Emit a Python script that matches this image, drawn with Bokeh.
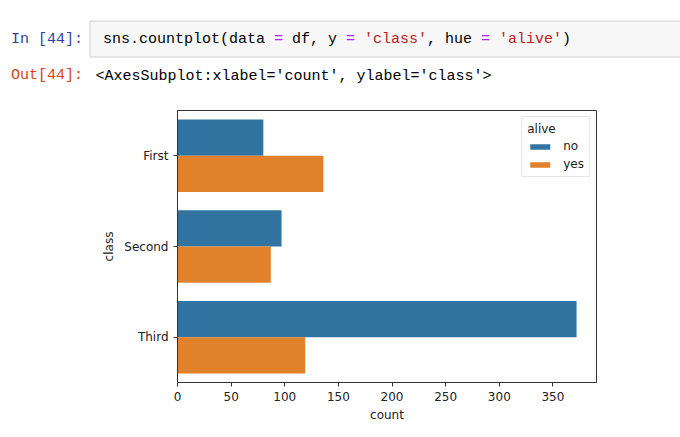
from bokeh.plotting import figure
from bokeh.models import Range1d, FactorRange, FixedTicker, Legend, LegendItem, ColumnDataSource
from bokeh.transform import dodge
from bokeh.core.properties import value
from bokeh.embed import file_html
from bokeh.resources import INLINE

# ---- data ----
classes = ["First", "Second", "Third"]
no_counts = [80, 97, 372]
yes_counts = [136, 87, 119]
hue_levels = ["no", "yes"]
x_ticks = [0, 50, 100, 150, 200, 250, 300, 350]

# ---- notebook header (code cell + output prompt) ----
W = 680
HH = 98
MONO = "Liberation Mono"
code_segments = [
    ("sns.countplot(data ", "#000000"),
    ("=", "#aa22ff"),
    (" df, y ", "#000000"),
    ("=", "#aa22ff"),
    (" ", "#000000"),
    ("'class'", "#ba2121"),
    (", hue ", "#000000"),
    ("=", "#aa22ff"),
    (" ", "#000000"),
    ("'alive'", "#ba2121"),
    (")", "#000000"),
]
out_text = "<AxesSubplot:xlabel='count', ylabel='class'>"

hdr = figure(width=W, height=HH, x_range=Range1d(0, W), y_range=Range1d(HH, 0),
             x_axis_location=None, y_axis_location=None, toolbar_location=None,
             output_backend="svg", min_border=0)
hdr.grid.visible = False
hdr.outline_line_color = None
hdr.background_fill_color = "white"
hdr.border_fill_color = "white"

hdr.quad(left=[89.5], right=[720], top=[20.5], bottom=[56.5],
         fill_color="#f7f7f7", line_color="#cfcfcf", line_width=1)

hdr.text(x=[10.5], y=[38.5], text=["In [44]:"], text_font=value(MONO),
         text_font_size="15px", text_color="#303f9f", text_baseline="middle")
hdr.text(x=[10.5], y=[75], text=["Out[44]:"], text_font=value(MONO),
         text_font_size="15px", text_color="#d84315", text_baseline="middle")

adv = 9.0
cx = 102.5
seg_x, seg_t, seg_c = [], [], []
for s, c in code_segments:
    stripped = s.strip()
    if stripped:
        lead = len(s) - len(s.lstrip())
        seg_x.append(cx + lead * adv)
        seg_t.append(stripped)
        seg_c.append(c)
    cx += len(s) * adv
hdr.text(x=seg_x, y=[39] * len(seg_x), text=seg_t, text_color=seg_c,
         text_font=value(MONO), text_font_size="15px", text_baseline="middle")
hdr.text(x=[95], y=[76], text=[out_text], text_font=value(MONO),
         text_font_size="15px", text_color="#000000", text_baseline="middle")

# ---- chart ----
src = ColumnDataSource(dict(cls=classes, no=no_counts, yes=yes_counts))

p = figure(width=W, height=331, y_range=FactorRange(factors=classes[::-1]),
           x_range=Range1d(0, max(no_counts) * 1.05),
           toolbar_location=None, output_backend="svg",
           min_border_left=177, min_border_right=84,
           min_border_top=12, min_border_bottom=47)
p.background_fill_color = "white"
p.border_fill_color = "white"
p.grid.visible = False
p.outline_line_color = "#333333"
p.outline_line_width = 1

r_no = p.hbar(y=dodge("cls", 0.2, range=p.y_range), right="no", left=0, height=0.4,
              source=src, fill_color="#3274a1", line_color=None)
r_yes = p.hbar(y=dodge("cls", -0.2, range=p.y_range), right="yes", left=0, height=0.4,
               source=src, fill_color="#e1812c", line_color=None)

p.xaxis.ticker = FixedTicker(ticks=x_ticks)
p.xaxis.axis_label = "count"
p.yaxis.axis_label = "class"
for ax in (p.xaxis, p.yaxis):
    ax.axis_line_color = "#333333"
    ax.major_tick_line_color = "#333333"
    ax.major_tick_out = 4
    ax.major_tick_in = 0
    ax.minor_tick_line_color = None
    ax.major_label_text_font = "DejaVu Sans"
    ax.major_label_text_font_size = "12px"
    ax.major_label_text_color = "#222222"
    ax.axis_label_text_font = "DejaVu Sans"
    ax.axis_label_text_font_size = "12px"
    ax.axis_label_text_font_style = "normal"
    ax.axis_label_text_color = "#222222"
p.xaxis.major_label_standoff = 5
p.xaxis.axis_label_standoff = 4
p.yaxis.major_label_standoff = 5
p.yaxis.axis_label_standoff = 5

legend = Legend(items=[LegendItem(label=hue_levels[0], renderers=[r_no]),
                       LegendItem(label=hue_levels[1], renderers=[r_yes])],
                location="top_right", title="alive")
legend.margin = 6
legend.padding = 5
legend.spacing = 4
legend.glyph_width = 25
legend.glyph_height = 7
legend.label_height = 12
legend.label_standoff = 11
legend.title_standoff = 3
legend.label_text_font = "DejaVu Sans"
legend.label_text_font_size = "12px"
legend.label_text_color = "#222222"
legend.title_text_font = "DejaVu Sans"
legend.title_text_font_size = "12px"
legend.title_text_font_style = "normal"
legend.title_text_color = "#222222"
legend.border_line_color = "#cccccc"
legend.border_line_width = 1
legend.background_fill_alpha = 0.8
p.add_layout(legend)

open("out.html", "w").write(file_html([hdr, p], INLINE))
